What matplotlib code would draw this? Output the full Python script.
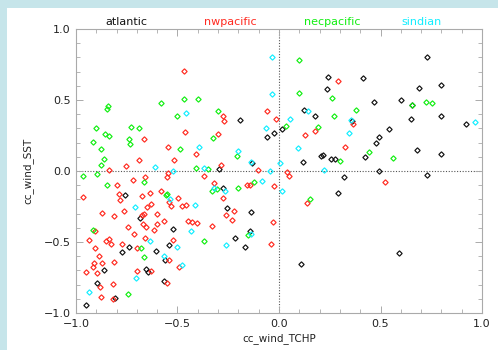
"""Scatter of wind/SST vs wind/TCHP correlation coefficients by basin"""

import matplotlib
matplotlib.use('Agg')
import matplotlib.pyplot as plt
from matplotlib.patches import Rectangle
from matplotlib.ticker import MultipleLocator

# basin names shown along the top, and their colours
basins = ['atlantic', 'nwpacific', 'necpacific', 'sindian']
colors = ['#111111', '#ff2a20', '#11ee11', '#11eeff']

# atlantic
atl_x = [-0.192, -0.058, -0.023, -0.297, -0.132, 0.016, 0.125, 0.179, 0.235, 0.243,
         0.412, 0.468, 0.601, 0.688, 0.731, 0.800, 0.798, 0.921, 0.652, 0.358,
         0.540, 0.493, 0.476, 0.205, 0.218, 0.256, 0.274, 0.120, 0.422, 0.678,
         0.798, 0.491, 0.657, 0.320, 0.729, 0.292, 0.108, 0.593, -0.760, -0.686,
         -0.524, -0.274, -0.256, -0.138, -0.144, -0.217, -0.169, -0.772, -0.739, -0.606,
         -0.543, -0.560, -0.657, -0.644, -0.861, -0.897, -0.565, -0.808, -0.951]
atl_y = [0.357, 0.239, 0.265, 0.012, 0.056, 0.296, 0.430, 0.389, 0.580, 0.662,
         0.657, 0.486, 0.498, 0.587, 0.801, 0.604, 0.385, 0.331, 0.364, 0.352,
         0.294, 0.242, 0.195, 0.104, 0.113, 0.085, 0.085, 0.065, 0.096, 0.146,
         0.122, -0.002, 0.467, -0.040, -0.028, -0.157, -0.653, -0.577, -0.167, -0.333,
         -0.408, -0.118, -0.258, -0.291, -0.420, -0.474, -0.537, -0.568, -0.533, -0.565,
         -0.523, -0.625, -0.692, -0.713, -0.697, -0.791, -0.773, -0.894, -0.942]

# nwpacific
nwp_x = [-0.468, -0.667, -0.690, -0.755, -0.837, -0.548, -0.519, -0.462, -0.409, -0.299,
         -0.276, -0.271, -0.286, -0.059, -0.015, -0.103, 0.291, 0.128, 0.176, 0.327,
         0.365, 0.041, 0.048, 0.522, 0.136, -0.964, -0.800, -0.721, -0.662, -0.553,
         -0.547, -0.788, -0.782, -0.676, -0.634, -0.581, -0.540, -0.532, -0.499, -0.476,
         -0.460, -0.629, -0.650, -0.673, -0.665, -0.765, -0.814, -0.873, -0.600, -0.568,
         -0.602, -0.670, -0.655, -0.745, -0.616, -0.713, -0.906, -0.936, -0.851, -0.837,
         -0.829, -0.908, -0.888, -0.872, -0.913, -0.918, -0.949, -0.897, -0.880, -0.877,
         -0.819, -0.816, -0.811, -0.773, -0.701, -0.660, -0.698, -0.631, -0.540, -0.524,
         -0.550, -0.494, -0.448, -0.427, -0.402, -0.330, -0.371, -0.319, -0.274, -0.263,
         -0.223, -0.232, -0.159, -0.141, -0.026, -0.030, -0.039]
nwp_y = [0.704, 0.225, 0.075, 0.033, 0.005, 0.167, 0.075, 0.273, 0.120, 0.258,
         0.387, 0.354, 0.040, 0.425, 0.364, 0.009, 0.634, 0.254, 0.282, 0.169,
         0.331, -0.009, -0.033, -0.080, -0.223, -0.185, -0.099, -0.063, -0.040, -0.042,
         -0.012, -0.164, -0.202, -0.178, -0.155, -0.141, -0.216, -0.244, -0.192, -0.249,
         -0.237, -0.235, -0.256, -0.310, -0.301, -0.282, -0.315, -0.296, -0.303, -0.350,
         -0.371, -0.375, -0.394, -0.394, -0.413, -0.446, -0.425, -0.484, -0.493, -0.479,
         -0.514, -0.544, -0.601, -0.646, -0.648, -0.678, -0.709, -0.720, -0.815, -0.885,
         -0.899, -0.796, -0.643, -0.514, -0.542, -0.472, -0.706, -0.706, -0.627, -0.486,
         -0.787, -0.676, -0.352, -0.357, -0.366, -0.387, -0.033, -0.085, -0.190, -0.310,
         -0.282, -0.345, -0.099, -0.096, -0.108, -0.359, -0.512]

# necpacific
nep_x = [-0.915, -0.903, -0.859, -0.836, -0.842, -0.846, -0.875, -0.862, -0.878, -0.739,
         -0.733, -0.729, -0.688, -0.583, -0.501, -0.469, -0.400, -0.486, -0.407, -0.350,
         -0.327, -0.300, -0.208, 0.099, 0.099, 0.260, 0.272, 0.379, 0.194, 0.034,
         0.299, 0.445, 0.560, 0.657, 0.726, 0.755, 0.154, -0.964, -0.895, -0.846,
         -0.665, -0.555, -0.550, -0.329, -0.304, -0.203, -0.125, -0.915, -0.680, -0.664,
         -0.745, -0.368, -0.154]
nep_y = [0.204, 0.301, 0.258, 0.246, 0.458, 0.435, 0.157, 0.087, 0.040, 0.223,
         0.190, 0.312, 0.301, 0.477, 0.389, 0.507, 0.509, 0.155, 0.023, 0.012,
         0.235, 0.420, 0.104, 0.784, 0.547, 0.512, 0.389, 0.427, 0.310, 0.317,
         0.070, 0.136, 0.089, 0.467, 0.488, 0.477, -0.197, -0.035, -0.019, -0.096,
         -0.080, -0.167, -0.160, -0.141, -0.127, -0.118, -0.075, -0.413, -0.540, -0.604,
         -0.868, -0.493, -0.451]

# sindian
sin_x = [-0.034, -0.036, -0.066, -0.457, -0.394, -0.200, -0.612, -0.524, -0.368, -0.136,
         -0.046, 0.054, 0.144, 0.094, 0.005, 0.222, 0.355, 0.346, 0.966, 0.016,
         -0.084, -0.322, -0.265, -0.535, -0.708, -0.412, -0.435, -0.637, -0.504, -0.565,
         -0.479, -0.706, -0.936, -0.263, -0.139]
sin_y = [0.801, 0.544, 0.301, 0.408, 0.167, 0.143, 0.030, 0.000, 0.023, 0.061,
         0.000, 0.368, 0.420, 0.162, 0.054, 0.007, 0.359, 0.268, 0.343, -0.143,
         -0.068, -0.118, -0.139, -0.197, -0.254, -0.239, -0.423, -0.495, -0.535, -0.601,
         -0.662, -0.756, -0.854, -0.523, -0.442]


def make_plot() -> None:
    """draw the scatter plot and save it"""
    fig = plt.figure(figsize=(4.98, 3.5), dpi=100, facecolor='#c6e5ea')
    # white panel inside the light blue frame
    fig.patches.append(Rectangle((7 / 498, 0), 1, 1 - 8 / 350, transform=fig.transFigure,
                                 facecolor='white', edgecolor='none', zorder=-10))

    ax = fig.add_axes([0.1526, 0.1057, 0.8153, 0.8114])
    ax.set_facecolor('none')

    series = [(atl_x, atl_y), (nwp_x, nwp_y), (nep_x, nep_y), (sin_x, sin_y)]
    for (xs, ys), col in zip(series, colors):
        ax.plot(xs, ys, linestyle='none', marker='D', markersize=2.7,
                markerfacecolor='none', markeredgecolor=col, markeredgewidth=0.85)

    # dotted zero lines
    ax.axhline(0, color='#555555', linestyle=(0, (1, 1.5)), linewidth=0.8, zorder=0)
    ax.axvline(0, color='#555555', linestyle=(0, (1, 1.5)), linewidth=0.8, zorder=0)

    ax.set_xlim(-1, 1)
    ax.set_ylim(-1, 1)
    ax.xaxis.set_major_locator(MultipleLocator(0.5))
    ax.xaxis.set_minor_locator(MultipleLocator(0.1))
    ax.yaxis.set_major_locator(MultipleLocator(0.5))
    ax.yaxis.set_minor_locator(MultipleLocator(0.1))
    ax.tick_params(which='both', direction='in', top=True, right=True,
                   color='#aaaaaa', labelsize=8, labelcolor='#222222')
    ax.tick_params(which='major', length=5, width=0.7, pad=4)
    ax.tick_params(which='minor', length=3, width=0.6)
    for spine in ax.spines.values():
        spine.set_color('#aaaaaa')
        spine.set_linewidth(0.8)

    ax.set_xlabel('cc_wind_TCHP', fontsize=7.5, color='#222222', labelpad=3)
    ax.set_ylabel('cc_wind_SST', fontsize=7.5, color='#222222', labelpad=7)

    # basin names across the top
    label_pos = [126, 230, 332, 422]
    for name, col, px in zip(basins, colors, label_pos):
        fig.text(px / 498, 1 - 22 / 350, name, color=col, fontsize=8,
                 ha='center', va='center')

    fig.savefig('out.png', dpi=100, facecolor=fig.get_facecolor())


if __name__ == '__main__':
    make_plot()
